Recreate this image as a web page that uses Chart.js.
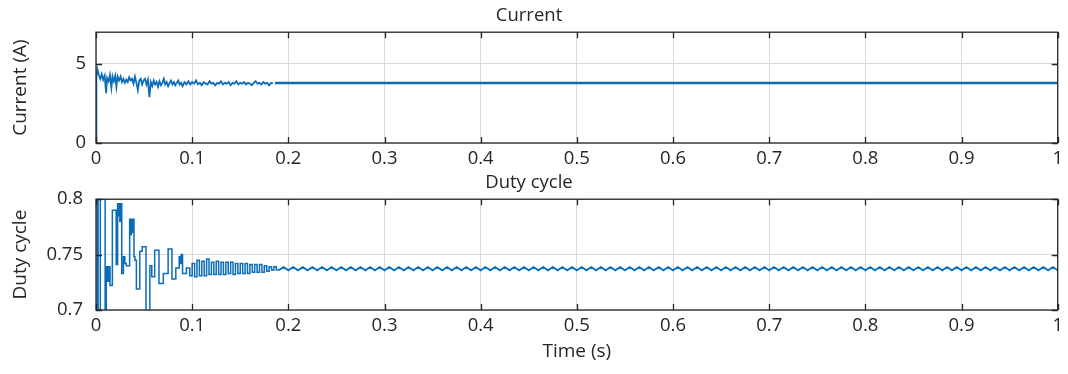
<!DOCTYPE html>
<html>
<head>
<meta charset="utf-8">
<script src="https://cdn.jsdelivr.net/npm/chart.js@4"></script>
<style>
  html, body { margin: 0; padding: 0; background: #fff; }
  #wrap { position: relative; width: 1068px; height: 374px; }
  #currentChart { position: absolute; left: 0; top: 0; }
  #dutyChart { position: absolute; left: 0; top: 170px; }
</style>
</head>
<body>
<div id="wrap">
  <canvas id="currentChart" width="1068" height="170"></canvas>
  <canvas id="dutyChart" width="1068" height="204"></canvas>
</div>
<script>
// ----------------- Data -----------------
const xTicks = [0, 0.1, 0.2, 0.3, 0.4, 0.5, 0.6, 0.7, 0.8, 0.9, 1];
const currentTicks = [0, 5];
const dutyTicks = [0.7, 0.75, 0.8];

// current, start-up part
const currentT = [0, 0.0004, 0.0015, 0.003, 0.0045, 0.006, 0.0075, 0.009, 0.0105, 0.0115,
  0.013, 0.0145, 0.016, 0.0172, 0.0185, 0.02, 0.0212, 0.0225, 0.024, 0.0255,
  0.027, 0.0285, 0.03, 0.0315, 0.033, 0.0345, 0.036, 0.0375, 0.039, 0.0405,
  0.042, 0.0435, 0.045, 0.0465, 0.048, 0.0495, 0.051, 0.0525, 0.054, 0.0555,
  0.057, 0.0585, 0.06, 0.0615, 0.063, 0.0645, 0.066, 0.0675, 0.069, 0.0705,
  0.072, 0.0735, 0.075, 0.0765, 0.078, 0.0795, 0.081, 0.0825, 0.084, 0.0855,
  0.087, 0.0885, 0.09, 0.092, 0.094, 0.096, 0.098, 0.1, 0.102, 0.104,
  0.106, 0.108, 0.11, 0.112, 0.114, 0.116, 0.118, 0.12, 0.122, 0.124,
  0.126, 0.128, 0.13, 0.132, 0.134, 0.136, 0.138, 0.14, 0.142, 0.144,
  0.146, 0.148, 0.15, 0.152, 0.154, 0.156, 0.158, 0.16, 0.162, 0.164,
  0.166, 0.168, 0.17, 0.172, 0.174, 0.176, 0.178, 0.18, 0.182, 0.184];
const currentV = [0, 4.2, 4.65, 4.3, 4.05, 4.35, 4.0, 4.25, 3.15, 4.1,
  3.9, 4.3, 3.5, 4.2, 3.9, 4.25, 3.55, 4.2, 3.95, 4.2,
  3.85, 4.05, 3.8, 4.0, 3.85, 4.15, 3.95, 4.05, 3.75, 4.2,
  3.8, 3.35, 3.95, 4.05, 3.7, 3.95, 4.05, 3.7, 4.0, 2.9,
  3.85, 3.6, 3.95, 3.7, 3.85, 3.55, 3.9, 3.65, 3.8, 4.05,
  3.7, 3.85, 3.6, 3.8, 3.95, 3.7, 3.85, 3.65, 3.8, 3.95,
  3.7, 3.8, 3.6, 3.85, 3.7, 3.9, 3.7, 3.85, 3.75, 3.95,
  3.7, 3.8, 3.65, 3.85, 3.75, 3.7, 3.9, 3.75, 3.8, 3.65,
  3.8, 3.75, 3.9, 3.7, 3.8, 3.75, 3.85, 3.65, 3.8, 3.75,
  3.9, 3.7, 3.8, 3.75, 3.85, 3.7, 3.8, 3.75, 3.65, 3.8,
  3.9, 3.75, 3.8, 3.7, 3.85, 3.75, 3.8, 3.65, 3.8, 3.78];
// current, settled part
const currentSteadyT = [0.186, 1];
const currentSteadyV = [3.79, 3.79];

// duty cycle, start-up part (value holds from each time on)
const dutyT = [0, 0.0012, 0.0022, 0.0045, 0.0095, 0.0107, 0.0118, 0.0125, 0.0132, 0.0139,
  0.0146, 0.017, 0.021, 0.0225, 0.0233, 0.024, 0.0248, 0.0255, 0.0268, 0.0285,
  0.03, 0.0315, 0.035, 0.0358, 0.0366, 0.0375, 0.0383, 0.0395, 0.0405, 0.042,
  0.0455, 0.048, 0.052, 0.056, 0.058, 0.061, 0.0655, 0.07, 0.075, 0.079,
  0.083, 0.0865, 0.0875, 0.0885, 0.09, 0.094, 0.0975, 0.1, 0.1025, 0.105,
  0.1075, 0.11, 0.1125, 0.115, 0.1175, 0.12, 0.1225, 0.125, 0.1275, 0.13,
  0.1325, 0.135, 0.1375, 0.14, 0.1425, 0.145, 0.1475, 0.15, 0.1525, 0.155,
  0.1575, 0.16, 0.1625, 0.165, 0.1675, 0.17, 0.1725, 0.175, 0.1775, 0.18,
  0.1825, 0.185, 0.1875];
const dutyV = [0.7, 0.8, 0.7, 0.8, 0.7, 0.739, 0.726, 0.739, 0.726, 0.739,
  0.722, 0.79, 0.741, 0.796, 0.785, 0.796, 0.78, 0.796, 0.733, 0.748,
  0.742, 0.74, 0.782, 0.768, 0.782, 0.77, 0.782, 0.748, 0.745, 0.719,
  0.753, 0.757, 0.69, 0.74, 0.73, 0.754, 0.724, 0.733, 0.755, 0.728,
  0.738, 0.748, 0.742, 0.75, 0.733, 0.738, 0.731, 0.742, 0.73, 0.745,
  0.731, 0.744, 0.731, 0.746, 0.732, 0.743, 0.732, 0.744, 0.732, 0.743,
  0.732, 0.743, 0.733, 0.743, 0.732, 0.742, 0.733, 0.742, 0.733, 0.742,
  0.733, 0.741, 0.734, 0.741, 0.734, 0.741, 0.734, 0.74, 0.735, 0.739,
  0.736, 0.739, 0.736];
// duty cycle, settled ripple (one value every 0.005 s from 0.19 s)
const dutyRippleStart = 0.19;
const dutyRippleStep = 0.005;
const dutyRipple = [
  0.7358, 0.7388, 0.7358, 0.7388, 0.7358, 0.7388, 0.7358, 0.7388, 0.7358, 0.7388,
  0.7358, 0.7388, 0.7358, 0.7388, 0.7358, 0.7388, 0.7358, 0.7388, 0.7358, 0.7388,
  0.7358, 0.7388, 0.7358, 0.7388, 0.7358, 0.7388, 0.7358, 0.7388, 0.7358, 0.7388,
  0.7358, 0.7388, 0.7358, 0.7388, 0.7358, 0.7388, 0.7358, 0.7388, 0.7358, 0.7388,
  0.7358, 0.7388, 0.7358, 0.7388, 0.7358, 0.7388, 0.7358, 0.7388, 0.7358, 0.7388,
  0.7358, 0.7388, 0.7358, 0.7388, 0.7358, 0.7388, 0.7358, 0.7388, 0.7358, 0.7388,
  0.7358, 0.7388, 0.7358, 0.7388, 0.7358, 0.7388, 0.7358, 0.7388, 0.7358, 0.7388,
  0.7358, 0.7388, 0.7358, 0.7388, 0.7358, 0.7388, 0.7358, 0.7388, 0.7358, 0.7388,
  0.7358, 0.7388, 0.7358, 0.7388, 0.7358, 0.7388, 0.7358, 0.7388, 0.7358, 0.7388,
  0.7358, 0.7388, 0.7358, 0.7388, 0.7358, 0.7388, 0.7358, 0.7388, 0.7358, 0.7388,
  0.7358, 0.7388, 0.7358, 0.7388, 0.7358, 0.7388, 0.7358, 0.7388, 0.7358, 0.7388,
  0.7358, 0.7388, 0.7358, 0.7388, 0.7358, 0.7388, 0.7358, 0.7388, 0.7358, 0.7388,
  0.7358, 0.7388, 0.7358, 0.7388, 0.7358, 0.7388, 0.7358, 0.7388, 0.7358, 0.7388,
  0.7358, 0.7388, 0.7358, 0.7388, 0.7358, 0.7388, 0.7358, 0.7388, 0.7358, 0.7388,
  0.7358, 0.7388, 0.7358, 0.7388, 0.7358, 0.7388, 0.7358, 0.7388, 0.7358, 0.7388,
  0.7358, 0.7388, 0.7358, 0.7388, 0.7358, 0.7388, 0.7358, 0.7388, 0.7358, 0.7388,
  0.7358, 0.7388, 0.7358, 0.7388];

// ----------------- Styling -----------------
const BLUE = '#0b6cb8';
const TEXT = '#262626';
const GRID = '#d9d9d9';
const FAMILY = "'Open Sans', sans-serif";

Chart.defaults.font = { family: FAMILY, size: 18.5 };
Chart.defaults.color = TEXT;

const toPoints = (ts, vs) => ts.map((t, i) => ({ x: t, y: vs[i] }));
const fmt = v => String(Number(v.toFixed(3)));

// box around plot + MATLAB-style inward ticks
const boxTicks = {
  id: 'boxTicks',
  afterDatasetsDraw(chart) {
    const { ctx, chartArea: a, scales } = chart;
    const len = 6;
    ctx.save();
    ctx.strokeStyle = TEXT;
    ctx.lineWidth = 1.3;
    ctx.beginPath();
    scales.x.ticks.forEach(t => {
      const px = Math.round(scales.x.getPixelForValue(t.value)) + 0.5;
      ctx.moveTo(px, a.bottom); ctx.lineTo(px, a.bottom - len);
      ctx.moveTo(px, a.top); ctx.lineTo(px, a.top + len);
    });
    scales.y.ticks.forEach(t => {
      const py = Math.round(scales.y.getPixelForValue(t.value)) + 0.5;
      ctx.moveTo(a.left, py); ctx.lineTo(a.left + len, py);
      ctx.moveTo(a.right, py); ctx.lineTo(a.right - len, py);
    });
    ctx.stroke();
    ctx.strokeRect(a.left, a.top, a.right - a.left, a.bottom - a.top);
    ctx.restore();
  }
};

function xScale(height, showTitle) {
  return {
    type: 'linear',
    min: 0,
    max: 1,
    afterBuildTicks: s => { s.ticks = xTicks.map(v => ({ value: v })); },
    afterFit: s => { s.height = height; },
    ticks: { padding: 5, maxRotation: 0, callback: v => fmt(v) },
    grid: { color: GRID, drawTicks: false },
    border: { display: false },
    title: { display: showTitle, text: 'Time (s)', font: { size: 19 }, padding: { top: 0, bottom: 11 } }
  };
}

function yScale(min, max, ticks, label, pad) {
  return {
    min,
    max,
    afterBuildTicks: s => { s.ticks = ticks.map(v => ({ value: v })); },
    afterFit: s => { s.width = 96; },
    ticks: { padding: pad, callback: v => fmt(v) },
    grid: { color: GRID, drawTicks: false },
    border: { display: false },
    title: { display: true, text: label, font: { size: 19 }, padding: { top: 9, bottom: 0 } }
  };
}

function baseOptions(title, titlePad) {
  return {
    responsive: false,
    animation: false,
    layout: { padding: { left: 0, right: 10, top: 0, bottom: 0 } },
    plugins: {
      legend: { display: false },
      tooltip: { enabled: false },
      title: { display: true, text: title, font: { weight: 'normal', size: 18.5 }, color: TEXT, padding: titlePad }
    },
    elements: { point: { radius: 0 } }
  };
}

// ----------------- Current -----------------
const curOpts = baseOptions('Current', { top: 5, bottom: 5 });
curOpts.scales = {
  x: xScale(27, false),
  y: yScale(0, 7, currentTicks, 'Current (A)', 10)
};
new Chart(document.getElementById('currentChart'), {
  type: 'line',
  data: {
    datasets: [
      { data: toPoints(currentT, currentV), borderColor: BLUE, borderWidth: 1.8 },
      { data: toPoints(currentSteadyT, currentSteadyV), borderColor: BLUE, borderWidth: 2.4 }
    ]
  },
  options: curOpts,
  plugins: [boxTicks]
});

// ----------------- Duty cycle -----------------
const dutyRippleT = dutyRipple.map((_, i) => dutyRippleStart + i * dutyRippleStep);
const dutyOpts = baseOptions('Duty cycle', { top: 2, bottom: 5 });
dutyOpts.scales = {
  x: xScale(64, true),
  y: yScale(0.7, 0.8, dutyTicks, 'Duty cycle', 13)
};
new Chart(document.getElementById('dutyChart'), {
  type: 'line',
  data: {
    datasets: [
      { data: toPoints(dutyT, dutyV).concat([{ x: dutyRippleStart, y: dutyRipple[0] }]), borderColor: BLUE, borderWidth: 1.5, stepped: true },
      { data: toPoints(dutyRippleT, dutyRipple), borderColor: BLUE, borderWidth: 1.8 }
    ]
  },
  options: dutyOpts,
  plugins: [boxTicks]
});
</script>
</body>
</html>
